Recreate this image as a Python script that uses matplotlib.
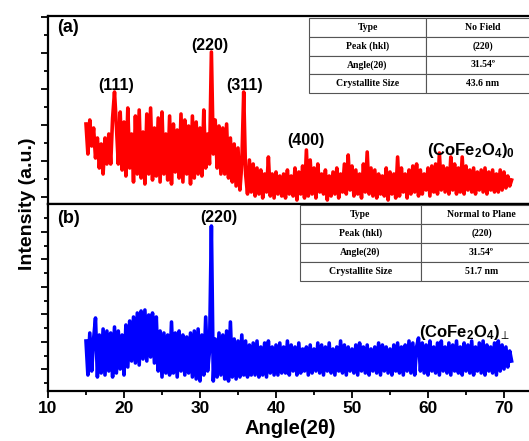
import numpy as np
import matplotlib.pyplot as plt

# XRD intensities, 15..71 deg in 0.25 deg steps
a_int = [80, 50, 84, 58,  76, 46, 66, 36,  60, 30, 66, 40,  70, 40, 86, 112,
         78, 40, 92, 34,  82, 28, 96, 36,  70, 22, 88, 30,  94, 26, 72, 20,
         90, 30, 96, 24,  76, 28, 86, 22,  92, 30, 70, 24,  88, 20, 80, 32,
         74, 26, 90, 22,  84, 30, 78, 20,  88, 26, 82, 30,  76, 28, 94, 36,
         70, 40, 152, 50, 84, 36, 78, 30,  76, 30, 80, 26,  66, 22, 60, 18,
         56, 14, 40, 112, 30, 10, 44, 12, 40, 8, 36, 10,   34, 6, 30, 12,
         47, 8, 30, 6,    32, 10, 28, 8,  30, 6, 34, 10,   28, 8, 36, 4,
         32, 10, 38, 6,   54, 8, 44, 10,  36, 6, 40, 12,   30, 10, 34, 4,
         28, 8, 32, 10,   36, 6, 30, 12,  40, 10, 49, 14,  38, 8, 34, 10,
         30, 6, 40, 12,   52, 10, 36, 8,  34, 6, 30, 10,   28, 8, 36, 4,
         32, 10, 30, 6,   47, 8, 36, 12,  30, 6, 34, 10,   38, 12, 40, 8,
         34, 10, 30, 14,  36, 8, 38, 12,  40, 10, 51, 14,  38, 12, 36, 10,
         47, 14, 40, 10,  36, 12, 47, 10, 38, 14, 34, 12,  36, 10, 32, 14,
         34, 12, 36, 10,  32, 14, 34, 12, 30, 12, 34, 14,  32, 16, 28, 18,
         24]

b_int = [50, 16, 58, 20,  52, 73, 14, 56,  18, 62, 16, 60,  20, 58, 14, 64,
         18, 60, 22, 56,  16, 66, 24, 70,  30, 74, 28, 78,  26, 80, 32, 81,
         30, 76, 34, 78,  28, 74, 20, 60,  14, 58, 18, 56,  16, 69, 18, 58,
         14, 60, 20, 56,  16, 54, 18, 58,  14, 60, 12, 62,  10, 56, 16, 74,
         20, 40, 165, 10, 52, 14, 58, 16,  56, 12, 60, 10,  69, 14, 52, 12,
         50, 14, 56, 16,  50, 14, 46, 16,  48, 16, 50, 14,  44, 16, 48, 14,
         50, 18, 44, 16,  46, 16, 48, 18,  44, 18, 50, 16,  46, 20, 44, 16,
         48, 18, 42, 20,  44, 16, 46, 18,  42, 20, 48, 18,  46, 16, 44, 20,
         48, 18, 42, 16,  44, 20, 50, 18,  46, 16, 44, 20,  42, 18, 46, 16,
         48, 20, 44, 18,  46, 16, 42, 20,  44, 18, 48, 16,  46, 20, 44, 18,
         42, 16, 46, 20,  48, 18, 44, 16,  46, 20, 50, 18,  48, 16, 44, 53,
         20, 48, 18, 46,  16, 50, 20, 44,  18, 48, 16, 50,  20, 44, 18, 48,
         16, 46, 20, 50,  18, 44, 16, 48,  20, 46, 18, 50,  16, 44, 20, 48,
         18, 50, 16, 46,  20, 44, 18, 48,  16, 50, 20, 46,  22, 44, 24, 40,
         30]

two_theta = np.linspace(15, 71, len(a_int))

peaks_a = ['(111)', '(220)', '(311)', '(400)']
peaks_a_pos = [18.9, 31.3, 35.8, 43.9]
peaks_a_h = [111, 151, 111, 56]

table_rows = ['Type', 'Peak (hkl)', 'Angle(2\u03b8)', 'Crystallite Size']
table_a = ['No Field', '(220)', '31.54\u00ba', '43.6 nm']
table_b = ['Normal to Plane', '(220)', '31.54\u00ba', '51.7 nm']

plt.rcParams['font.family'] = ['Liberation Sans', 'DejaVu Sans']
plt.rcParams['mathtext.fontset'] = 'custom'
plt.rcParams['mathtext.rm'] = 'Liberation Sans:bold'
plt.rcParams['mathtext.bf'] = 'Liberation Sans:bold'
plt.rcParams['mathtext.it'] = 'Liberation Sans:bold'
plt.rcParams['mathtext.fallback'] = 'stixsans'

fig = plt.figure(figsize=(5.29, 4.41), dpi=100)
W, H = 529, 441
x0, x1 = 48, 529
ax1 = fig.add_axes([x0 / W, 1 - 204 / H, (x1 - x0) / W, 188 / H])
ax2 = fig.add_axes([x0 / W, 1 - 391 / H, (x1 - x0) / W, 187 / H])

ax1.plot(two_theta, a_int, color='#ff0000', lw=2.6)
ax2.plot(two_theta, b_int, color='#0000ff', lw=2.6)

ax1.set_ylim(0, 188)
ax2.set_ylim(0, 187)
for ax in (ax1, ax2):
    ax.set_xlim(10, 10 + (x1 - x0) / 7.6)
    ax.spines['right'].set_visible(False)
    for s in ('left', 'top', 'bottom'):
        ax.spines[s].set_linewidth(1.6)
    ax.set_xticks(np.arange(10, 71, 10))
    ax.set_xticks(np.arange(15, 71, 10), minor=True)
    ax.tick_params(axis='both', which='both', direction='out', width=1.3,
                   labelleft=False, top=False, right=False)
    ax.tick_params(which='major', length=5)
    ax.tick_params(which='minor', length=3)

ax1.set_yticks(np.arange(7, 188, 36))
ax1.set_yticks(np.arange(25, 188, 36), minor=True)
ax2.set_yticks(np.arange(22, 187, 27.5))
ax2.set_yticks(np.arange(8, 187, 27.5), minor=True)
ax1.tick_params(labelbottom=False)
ax2.tick_params(axis='x', pad=2)
for lab in ax2.get_xticklabels():
    lab.set_fontweight('bold')
    lab.set_fontsize(12.5)

# peak labels
for name, xp, yp in zip(peaks_a, peaks_a_pos, peaks_a_h):
    ax1.text(xp, yp, name, ha='center', va='bottom', fontsize=11.5, fontweight='bold')
ax2.text(32.5, 166, '(220)', ha='center', va='bottom', fontsize=11.5, fontweight='bold')

ax1.text(0.02, 0.94, '(a)', transform=ax1.transAxes, ha='left', va='center',
         fontsize=13, fontweight='bold')
ax2.text(0.02, 0.92, '(b)', transform=ax2.transAxes, ha='left', va='center',
         fontsize=13, fontweight='bold')

ax1.text(65.6, 54, r'(CoFe$_2$O$_4$)$_0$', ha='center', va='center',
         fontsize=12, fontweight='bold')
ax2.text(64.8, 59, r'(CoFe$_2$O$_4$)$_{\perp}$', ha='center', va='center',
         fontsize=12, fontweight='bold')

fig.text(28 / W, 1 - 204 / H, 'Intensity (a.u.)', rotation=90, ha='center', va='center',
         fontsize=14, fontweight='bold')
fig.text(290 / W, 1 - 428 / H, 'Angle(2\u03b8)', ha='center', va='center',
         fontsize=14.5, fontweight='bold')


def add_table(ax, col2, left, right, top, bottom, split):
    t = ax.table(cellText=[[r, v] for r, v in zip(table_rows, col2)],
                 bbox=[left, bottom, right - left, top - bottom],
                 cellLoc='center', colWidths=[split - left, right - split])
    t.auto_set_font_size(False)
    for cell in t.get_celld().values():
        cell.set_edgecolor('#555555')
        cell.set_linewidth(0.8)
        cell.get_text().set_fontsize(7)
        cell.get_text().set_fontweight('bold')
        cell.get_text().set_fontfamily('Liberation Serif')
    t.set_clip_on(False)


add_table(ax1, table_a, (309 - x0) / 481, (540 - x0) / 481,
          (204 - 18) / 188, (204 - 93) / 188, (426 - x0) / 481)
add_table(ax2, table_b, (300 - x0) / 481, (542 - x0) / 481,
          (391 - 205) / 187, (391 - 281) / 187, (421 - x0) / 481)

fig.savefig('out.png', dpi=100)
